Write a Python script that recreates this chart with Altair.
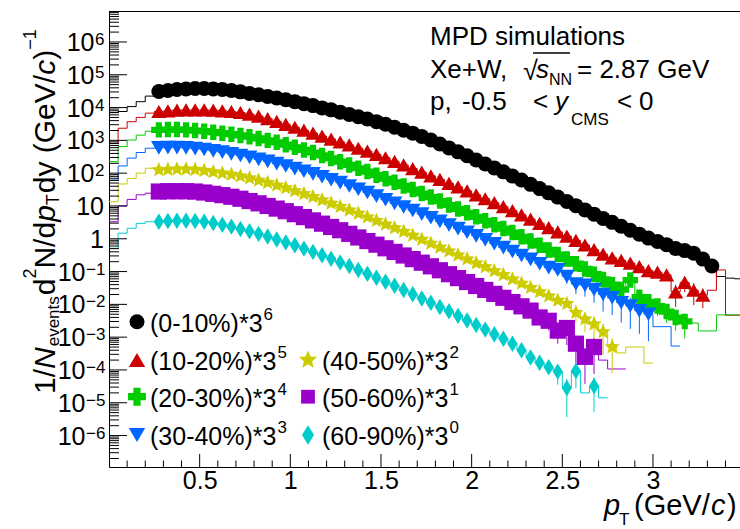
import altair as alt
import pandas as pd

FONT = "Liberation Sans"
W, H = 631, 456          # plot area (px)
PL, PT = 109, 11         # left / top padding (px)
XMAX = 3.48
YDOM = [1.1e-7, 8.8e6]
BIN = 0.05               # histogram bin width (GeV/c)
FIRST_MARKER_BIN = 5     # markers start at pT = 0.25

# ---------------- data: log10 of the yield per 0.05 GeV/c bin, starting at pT = 0 ----------------
black_log10 = [3.85, 3.88, 4.03, 4.18, 4.35,
               4.49, 4.52, 4.55, 4.57, 4.58,
               4.58, 4.57, 4.55, 4.52, 4.48, 4.43, 4.39, 4.34, 4.29, 4.24,
               4.18, 4.12, 4.06, 3.99, 3.93, 3.86, 3.79, 3.72, 3.65, 3.57,
               3.49, 3.40, 3.31, 3.22, 3.12, 3.01, 2.89, 2.77, 2.65, 2.53,
               2.40, 2.28, 2.16, 2.04, 1.91, 1.79, 1.66, 1.53, 1.40, 1.27,
               1.14, 1.01, 0.88, 0.75, 0.62, 0.50, 0.38, 0.26, 0.14, 0.02,
               -0.08, -0.18, -0.30, -0.36, -0.44, -0.62, -0.83,
               -1.15, -1.20, -1.22]
red_log10 = [2.91, 3.37, 3.57, 3.70, 3.83,
             3.88, 3.90, 3.92, 3.93, 3.93,
             3.93, 3.92, 3.90, 3.88, 3.85, 3.80, 3.74, 3.66, 3.58, 3.49,
             3.40, 3.31, 3.22, 3.13, 3.04, 2.95, 2.86, 2.76, 2.67, 2.57,
             2.47, 2.36, 2.25, 2.14, 2.03, 1.92, 1.81, 1.69, 1.58, 1.46,
             1.34, 1.22, 1.10, 0.98, 0.86, 0.73, 0.60, 0.47, 0.34, 0.21,
             0.08, -0.05, -0.19, -0.33, -0.47, -0.58, -0.66, -0.74, -0.85, -0.97,
             -1.02, -1.10, -1.62, -1.33, -1.57, -1.72,
             -1.57, -0.95, -2.33, -2.33]
green_log10 = [2.35, 2.81, 3.01, 3.16, 3.28,
               3.32, 3.33, 3.33, 3.32, 3.30,
               3.28, 3.25, 3.22, 3.19, 3.15, 3.11, 3.06, 3.00, 2.94, 2.87,
               2.79, 2.71, 2.63, 2.54, 2.45, 2.35, 2.25, 2.15, 2.05, 1.94,
               1.83, 1.72, 1.61, 1.50, 1.38, 1.27, 1.15, 1.03, 0.91, 0.79,
               0.67, 0.55, 0.43, 0.31, 0.19, 0.06, -0.07, -0.20, -0.34, -0.48,
               -0.62, -0.76, -0.92, -1.08, -1.24, -1.40, -1.55, -1.26, -1.78, -1.92,
               -2.05, -2.22, -2.40, -2.52,
               -2.57, -2.81, -2.81, -2.32, -2.32, -2.32]
blue_log10 = [1.79, 2.22, 2.46, 2.63, 2.76,
              2.77, 2.78, 2.78, 2.77, 2.75,
              2.72, 2.68, 2.64, 2.59, 2.54, 2.48, 2.42, 2.36, 2.29, 2.22,
              2.14, 2.06, 1.98, 1.89, 1.80, 1.71, 1.61, 1.51, 1.41, 1.30,
              1.19, 1.08, 0.97, 0.86, 0.75, 0.64, 0.53, 0.42, 0.31, 0.20,
              0.09, -0.03, -0.15, -0.27, -0.39, -0.51, -0.63, -0.76, -0.88, -0.95,
              -1.15, -1.38, -1.42, -1.55, -1.70, -1.80, -1.95, -2.05, -2.20, -2.30,
              -2.68, -2.68, -3.27]
yellow_log10 = [1.13, 1.67, 1.84, 2.00, 2.15,
                2.10, 2.11, 2.12, 2.12, 2.11,
                2.08, 2.04, 2.00, 1.96, 1.91, 1.85, 1.78, 1.71, 1.63, 1.55,
                1.46, 1.37, 1.28, 1.18, 1.08, 0.98, 0.87, 0.77, 0.66, 0.55,
                0.44, 0.33, 0.22, 0.10, -0.02, -0.14, -0.26, -0.38, -0.50, -0.62,
                -0.74, -0.86, -0.98, -1.10, -1.23, -1.36, -1.49, -1.62, -1.75, -1.88,
                -1.98, -2.25, -2.45, -2.60, -2.84, -3.30,
                -3.48, -3.30, -3.30, -3.79]
purple_log10 = [0.52, 1.00, 1.20, 1.34, 1.39,
                1.44, 1.45, 1.45, 1.45, 1.44,
                1.41, 1.37, 1.33, 1.28, 1.22, 1.15, 1.08, 1.00, 0.92, 0.84,
                0.75, 0.66, 0.56, 0.46, 0.36, 0.26, 0.15, 0.04, -0.07, -0.18,
                -0.29, -0.40, -0.51, -0.62, -0.73, -0.84, -0.96, -1.08, -1.20, -1.32,
                -1.44, -1.56, -1.68, -1.80, -1.93, -2.06, -2.19, -2.40, -2.50, -2.80,
                -2.72, -3.20, -3.60, -3.30,
                -3.70, -3.97, -3.97]
cyan_log10 = [-0.29, 0.17, 0.32, 0.47, 0.52,
              0.52, 0.54, 0.55, 0.55, 0.54,
              0.52, 0.48, 0.43, 0.37, 0.30, 0.23, 0.15, 0.07, -0.02, -0.11,
              -0.20, -0.30, -0.40, -0.50, -0.61, -0.72, -0.83, -0.95, -1.07, -1.19,
              -1.31, -1.43, -1.56, -1.69, -1.82, -1.95, -2.08, -2.21, -2.35, -2.49,
              -2.63, -2.77, -2.91, -3.05, -3.20, -3.40, -3.62, -3.78, -3.92, -4.05,
              -4.55, -4.03, -4.70, -4.49,
              -4.85]

# last bin drawn with a marker, and bins without a marker
marker_last_bin = {"c0": 66, "c1": 65, "c2": 63, "c3": 59, "c4": 55, "c5": 53, "c6": 53}
marker_skip_bins = {"c6": [52]}
# relative statistical errors of the last markers of each series
err_tail = {
    "c1": [0.2, 0.25, 0.3, 0.3, 0.65, 0.5, 0.65, 0.6],
    "c2": [0.3, 0.35, 0.4, 0.45, 0.5, 0.55, 0.6, 0.7],
    "c3": [0.4, 0.5, 0.55, 0.6, 0.7, 0.7, 0.75, 0.8, 0.8, 0.85],
    "c4": [0.5, 0.6, 0.7, 0.8, 0.84],
    "c5": [0.5, 0.6, 0.7, 0.8, 0.85, 0.85],
    "c6": [0.6, 0.87, 0.7, 0.0, 0.84],
}

keys = ["c0", "c1", "c2", "c3", "c4", "c5", "c6"]
labels_main = ["(0-10%)*3", "(10-20%)*3", "(20-30%)*3", "(30-40%)*3",
               "(40-50%)*3", "(50-60%)*3", "(60-90%)*3"]
labels_exp = ["6", "5", "4", "3", "2", "1", "0"]
logs = dict(zip(keys, [black_log10, red_log10, green_log10, blue_log10,
                       yellow_log10, purple_log10, cyan_log10]))

colors = ["#000000", "#cc0000", "#00cc00", "#0066ff", "#cccc00", "#9900cc", "#00cccc"]
STAR = ("M0,-1L0.265,-0.364L0.951,-0.309L0.428,0.139L0.588,0.809L0,0.45"
        "L-0.588,0.809L-0.428,0.139L-0.951,-0.309L-0.265,-0.364Z")
DIAMOND = "M0,-1L0.62,0L0,1L-0.62,0Z"
shapes = ["circle", "triangle-up", "cross", "triangle-down", STAR, "square", DIAMOND]
sizes = [225, 270, 320, 270, 370, 190, 380]

# ---------------- tables ----------------
hist_rows, mk_rows, err_rows = [], [], []
for k in keys:
    lv = logs[k]
    for i, v in enumerate(lv):
        hist_rows.append({"s": k, "x": i * BIN, "v": 10 ** v})
    hist_rows.append({"s": k, "x": len(lv) * BIN, "v": 10 ** lv[-1]})
    last = marker_last_bin[k]
    skip = marker_skip_bins.get(k, [])
    for i in range(FIRST_MARKER_BIN, last + 1):
        if i in skip:
            continue
        mk_rows.append({"s": k, "x": i * BIN + BIN / 2, "v": 10 ** lv[i]})
    errs = err_tail.get(k, [])
    for j, e in enumerate(errs):
        i = last - len(errs) + 1 + j
        if e <= 0 or i in skip:
            continue
        val = 10 ** lv[i]
        err_rows.append({"s": k, "x": i * BIN + BIN / 2, "lo": val * (1 - e), "hi": val * (1 + e)})

hist_df = pd.DataFrame(hist_rows)
mk_df = pd.DataFrame(mk_rows)
err_df = pd.DataFrame(err_rows)

# axis ticks (ROOT style, drawn inside the frame)
y_major = [10.0 ** k for k in range(-6, 7)]
y_minor = [m * 10.0 ** k for k in range(-7, 7) for m in range(2, 10)
           if YDOM[0] <= m * 10.0 ** k <= YDOM[1]]
x_major = [0.5, 1.0, 1.5, 2.0, 2.5, 3.0]
x_minor = [round(0.1 * i, 1) for i in range(1, 35) if i % 5 != 0]

ylab_pos = pd.DataFrame({"v": [1e6, 1e5, 1e4, 1e3, 1e2], "base": ["10"] * 5,
                         "exp": ["6", "5", "4", "3", "2"]})
ylab_neg = pd.DataFrame({"v": [1e-1, 1e-2, 1e-3, 1e-4, 1e-5, 1e-6], "base": ["10"] * 6,
                         "exp": ["\u22121", "\u22122", "\u22123", "\u22124", "\u22125", "\u22126"]})
ylab_plain = pd.DataFrame({"v": [10.0, 1.0], "t": ["10", "1"]})

# ---------------- scales / axes ----------------
xscale = alt.Scale(domain=[0, XMAX], nice=False, zero=False)
yscale = alt.Scale(type="log", domain=YDOM, nice=False)
xaxis = alt.Axis(values=x_major, format="~g", labelFont=FONT, labelFontSize=25,
                 labelColor="black", ticks=False, tickSize=0, labelPadding=1,
                 domainColor="black", domainWidth=1, grid=False, title=None,
                 labelFlush=False, labelOverlap=False)
yaxis = alt.Axis(labels=False, ticks=False, tickSize=0, grid=False, title=None,
                 domainColor="black", domainWidth=1)
cscale = alt.Scale(domain=keys, range=colors)


def X(f):
    return alt.X(f, type="quantitative", scale=xscale, axis=xaxis)


def Y(f):
    return alt.Y(f, type="quantitative", scale=yscale, axis=yaxis)


layers = []

# histogram step lines
layers.append(alt.Chart(hist_df).mark_line(interpolate="step-after", strokeWidth=1, clip=True)
              .encode(x=X("x"), y=Y("v"), color=alt.Color("s:N", scale=cscale, legend=None),
                      detail="s:N"))

# tick marks
layers.append(alt.Chart(pd.DataFrame({"v": y_major})).mark_rule(color="black", strokeWidth=1)
              .encode(y=Y("v"), x=alt.value(0), x2=alt.value(18)))
layers.append(alt.Chart(pd.DataFrame({"v": y_minor})).mark_rule(color="black", strokeWidth=1)
              .encode(y=Y("v"), x=alt.value(0), x2=alt.value(10)))
layers.append(alt.Chart(pd.DataFrame({"x": x_major})).mark_rule(color="black", strokeWidth=1)
              .encode(x=X("x"), y=alt.value(H), y2=alt.value(H - 13)))
layers.append(alt.Chart(pd.DataFrame({"x": x_minor})).mark_rule(color="black", strokeWidth=1)
              .encode(x=X("x"), y=alt.value(H), y2=alt.value(H - 6.5)))
# top frame line
layers.append(alt.Chart(pd.DataFrame({"v": [1]})).mark_rule(color="black", strokeWidth=1)
              .encode(x=alt.value(0), x2=alt.value(W), y=alt.value(0.5)))

# error bars
layers.append(alt.Chart(err_df).mark_rule(strokeWidth=1, clip=True)
              .encode(x=X("x"), y=Y("lo"), y2="hi",
                      color=alt.Color("s:N", scale=cscale, legend=None)))

# markers
layers.append(alt.Chart(mk_df).mark_point(filled=True, opacity=1, strokeWidth=0, clip=True)
              .encode(x=X("x"), y=Y("v"),
                      color=alt.Color("s:N", scale=cscale, legend=None),
                      shape=alt.Shape("s:N", scale=alt.Scale(domain=keys, range=shapes), legend=None),
                      size=alt.Size("s:N", scale=alt.Scale(domain=keys, range=sizes), legend=None)))

# y tick labels with superscripts
layers.append(alt.Chart(ylab_pos).mark_text(align="right", baseline="alphabetic", dy=9,
                                             font=FONT, fontSize=25, color="black")
              .encode(y=Y("v"), x=alt.value(94.5 - PL), text="base:N"))
layers.append(alt.Chart(ylab_pos).mark_text(align="left", baseline="alphabetic", dy=3,
                                             font=FONT, fontSize=17, color="black")
              .encode(y=Y("v"), x=alt.value(95 - PL), text="exp:N"))
layers.append(alt.Chart(ylab_neg).mark_text(align="right", baseline="alphabetic", dy=9,
                                             font=FONT, fontSize=25, color="black")
              .encode(y=Y("v"), x=alt.value(85.5 - PL), text="base:N"))
layers.append(alt.Chart(ylab_neg).mark_text(align="left", baseline="alphabetic", dy=3,
                                             font=FONT, fontSize=17, color="black")
              .encode(y=Y("v"), x=alt.value(86 - PL), text="exp:N"))
layers.append(alt.Chart(ylab_plain).mark_text(align="right", baseline="alphabetic", dy=9,
                                               font=FONT, fontSize=25, color="black")
              .encode(y=Y("v"), x=alt.value(104 - PL), text="t:N"))

# ---------------- rich text helpers (page coordinates) ----------------
CW = {' ': 278, '%': 889, '(': 333, ')': 333, '*': 389, '+': 584, ',': 278, '-': 333,
      '.': 278, '/': 278, '<': 584, '=': 584, 'C': 722, 'D': 722, 'G': 778, 'M': 833,
      'N': 722, 'P': 667, 'S': 667, 'T': 611, 'V': 667, 'W': 944, 'X': 667, 'a': 556,
      'c': 500, 'd': 556, 'e': 556, 'i': 222, 'l': 222, 'm': 833, 'n': 556, 'o': 556,
      'p': 556, 's': 500, 't': 278, 'u': 556, 'v': 500, 'y': 500, '\u2212': 584}


def tw(s, size):
    return sum(CW.get(c, 556) for c in s) * size / 1000.0


def txt(s, x, y, size, italic=False, angle=0):
    return (alt.Chart(alt.Data(values=[{}]))
            .mark_text(align="left", baseline="alphabetic", font=FONT, fontSize=size,
                       fontStyle="italic" if italic else "normal", angle=angle, color="black")
            .encode(x=alt.value(x - PL), y=alt.value(y - PT), text=alt.value(s)))


# y title (rotated, reading bottom -> top); (text, size, style, extra gap after)
ytitle = [("1/", 30, "n", 0), ("N", 30, "i", 1), ("events", 17, "sub", 1), ("d", 30, "n", 0),
          ("2", 18, "sup", 0), ("N/d", 30, "n", 0), ("p", 30, "i", 0), ("T", 18, "sub", 1),
          ("dy", 30, "n", 8.3), ("(GeV/", 30, "n", 0), ("c", 30, "i", 0), (")", 30, "n", 0),
          ("\u22121", 18, "sup", 0)]
YT_BASE = 55
cur = 394.0
for s, sz, st, gap in ytitle:
    bx = YT_BASE + (4 if st == "sub" else (-19 if st == "sup" else 0))
    layers.append(txt(s, bx, cur, sz, italic=(st == "i"), angle=270))
    cur -= tw(s, sz) + gap

# x title pieces
layers.append(txt("p", 604, 515, 29, italic=True))
layers.append(txt("T", 619, 525, 17))
layers.append(txt("(GeV/", 634, 515, 29))
layers.append(txt("c", 711, 515, 29, italic=True))
layers.append(txt(")", 727, 515, 29))

# annotation (top right)
layers.append(txt("MPD simulations", 430, 45, 26))
layers.append(txt("Xe+W,", 430, 78, 26))
layers.append(txt("\u221a", 523, 80, 27))
layers.append(alt.Chart(alt.Data(values=[{}])).mark_rule(color="black", strokeWidth=1.3)
              .encode(x=alt.value(533 - PL), x2=alt.value(570 - PL), y=alt.value(53 - PT)))
layers.append(txt("s", 536, 78, 26, italic=True))
layers.append(txt("NN", 549, 85, 16))
layers.append(txt("= 2.87 GeV", 577, 78, 26))
layers.append(txt("p,", 430, 110, 26))
layers.append(txt("-0.5", 462, 110, 26))
layers.append(txt("<", 533, 110, 26))
layers.append(txt("y", 555, 110, 26, italic=True))
layers.append(txt("CMS", 571, 125, 17))
layers.append(txt("<", 617, 110, 26))
layers.append(txt("0", 639, 110, 26))

# legend
legend_pos = [(137, 321.7, 150), (137, 360, 150), (137, 396.7, 150), (137, 435, 150),
              (308, 360, 322), (308, 396.7, 322), (308, 435, 322)]
for idx, (mx, my, tx) in enumerate(legend_pos):
    layers.append(alt.Chart(alt.Data(values=[{}]))
                  .mark_point(filled=True, opacity=1, strokeWidth=0)
                  .encode(x=alt.value(mx - PL), y=alt.value(my - PT),
                          shape=alt.value(shapes[idx]), size=alt.value(sizes[idx]),
                          color=alt.value(colors[idx])))
    layers.append(txt(labels_main[idx], tx, my + 10, 25))
    layers.append(txt(labels_exp[idx], tx + tw(labels_main[idx], 25) + 1, my - 2, 17))

chart = (alt.layer(*layers)
         .properties(width=W, height=H,
                     autosize=alt.AutoSizeParams(type="none"),
                     padding={"left": PL, "top": PT, "right": 0, "bottom": 529 - PT - H})
         .configure_view(stroke=None)
         .configure(background="white"))

chart.save("out.html", embed_options={"renderer": "svg", "actions": False})
